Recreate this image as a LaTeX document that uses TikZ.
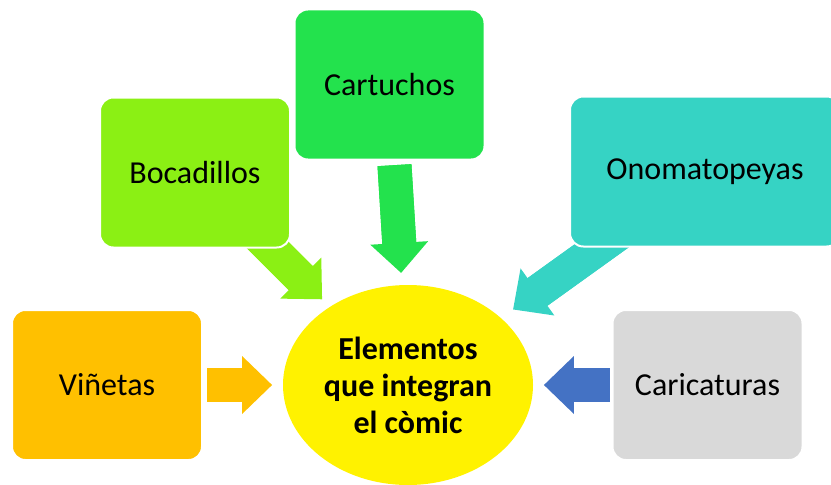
\documentclass[tikz,border=0pt]{standalone}
\usepackage{fontspec}
\setmainfont{Carlito}
\usepackage{tikz}
\usetikzlibrary{arrows.meta, shapes.geometric, backgrounds}

\definecolor{verdeclaro}{RGB}{139,240,20}
\definecolor{verde}{RGB}{35,226,77}
\definecolor{turquesa}{RGB}{54,211,196}
\definecolor{naranja}{RGB}{255,192,0}
\definecolor{gris}{RGB}{217,217,217}
\definecolor{azul}{RGB}{68,114,196}

\begin{document}
\begin{tikzpicture}[
            x = 0.75pt,
            y = -0.75pt,
            font = \fontsize{24}{28}\selectfont,
            flecha/.style 2 args = {
                line width = 25.5pt,
                shorten < = #1,
                shorten > = #2,
                -{Triangle[width=43.5pt, length=22.5pt, line width=0pt]},
                postaction = {draw, -, shorten > = #2+15pt}
            }
        ]
        \tikzstyle{caja}=[
            draw = white,
            line width = 1.5pt,
            rounded corners = 10pt,
            minimum width = 142.5pt,
            minimum height = 112.5pt
        ]
        \useasboundingbox (0,0) rectangle (831,485);

        \node[caja, fill=naranja] (vin) at (107,385) {Viñetas};
        \node[caja, fill=verdeclaro] (boc) at (195,172.5) {Bocadillos};
        \node[caja, fill=verde] (cart) at (389.5,84.5) {Cartuchos};
        \node[caja, fill=turquesa, minimum width=202.5pt] (ono) at (705,171.5) {Onomatopeyas};
        \node[caja, fill=gris] (cari) at (707.5,385) {Caricaturas};

        \node[ellipse, fill=yellow, minimum width=187.5pt, minimum height=150pt,
              inner sep=0pt, align=center,
              font=\fontsize{24}{27.75}\selectfont\bfseries] (elem) at (408,385)
              {Elementos\\que integran\\el còmic};

        % flechas por debajo de las cajas
        \begin{scope}[on background layer]
            \draw[flecha={3pt}{8pt}, naranja] (vin) -- (elem);
            \draw[flecha={-20pt}{8pt}, verdeclaro] (boc) -- (elem);
            \draw[flecha={3.5pt}{9pt}, verde] (cart) -- (elem);
            \draw[flecha={-20pt}{11pt}, turquesa] (ono) -- (elem);
            \draw[flecha={1.5pt}{8pt}, azul] (cari) -- (elem);
        \end{scope}
\end{tikzpicture}
\end{document}
